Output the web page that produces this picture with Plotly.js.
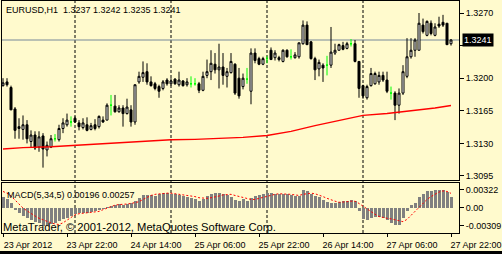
<!DOCTYPE html>
<html><head><meta charset="utf-8">
<script src="https://cdn.plot.ly/plotly-3.0.1.min.js"></script>
<style>
html,body{margin:0;padding:0;background:#FFFACD;}
#wrap{position:relative;width:502px;height:254px;overflow:hidden;}
#chart{width:502px;height:254px;}
#frameBottom{position:absolute;left:0;top:251px;width:502px;height:3px;background:#000;}
</style>
</head><body><div id="wrap"><div id="chart"></div><div id="frameBottom"></div></div>
<script>
const symbolTitle = "EURUSD,H1  1.3237 1.3242 1.3235 1.3241";
const macdTitle = "MACD(5,34,5) 0.00196 0.00257";
const copyright = "MetaTrader, \u00A9 2001-2012, MetaQuotes Software Corp.";

const opens = [
1.3192,1.3196,1.3190,1.3167,1.3146,1.3145,1.3150,1.3132,1.3139,1.3126,
1.3138,1.3123,1.3126,1.3135,1.3134,1.3146,1.3150,1.3153,1.3157,1.3152,
1.3147,1.3150,1.3145,1.3150,1.3148,1.3155,1.3155,1.3171,1.3170,1.3164,
1.3168,1.3162,1.3166,1.3153,1.3196,1.3201,1.3207,1.3196,1.3194,1.3191,
1.3189,1.3198,1.3194,1.3199,1.3193,1.3197,1.3193,1.3194,1.3194,1.3194,
1.3187,1.3203,1.3207,1.3215,1.3209,1.3212,1.3202,1.3206,1.3215,1.3200,
1.3191,1.3199,1.3186,1.3227,1.3221,1.3215,1.3221,1.3230,1.3222,1.3222,
1.3218,1.3230,1.3223,1.3222,1.3223,1.3237,1.3257,1.3239,1.3221,1.3210,
1.3214,1.3214,1.3214,1.3227,1.3230,1.3235,1.3232,1.3237,1.3237,1.3218,
1.3192,1.3179,1.3192,1.3194,1.3196,1.3203,1.3198,1.3184,1.3184,1.3171,
1.3184,1.3202,1.3223,1.3230,1.3230,1.3257,1.3246,1.3259,1.3246,1.3258,
1.3260,1.3259,1.3237];
const highs = [
1.3200,1.3200,1.3192,1.3169,1.3157,1.3160,1.3155,1.3144,1.3143,1.3143,
1.3141,1.3132,1.3139,1.3140,1.3150,1.3157,1.3162,1.3159,1.3159,1.3155,
1.3157,1.3158,1.3152,1.3156,1.3160,1.3159,1.3173,1.3182,1.3182,1.3171,
1.3171,1.3178,1.3171,1.3193,1.3207,1.3218,1.3216,1.3202,1.3196,1.3193,
1.3198,1.3200,1.3200,1.3200,1.3207,1.3198,1.3200,1.3202,1.3200,1.3196,
1.3207,1.3220,1.3230,1.3227,1.3237,1.3227,1.3211,1.3227,1.3216,1.3211,
1.3205,1.3211,1.3232,1.3232,1.3223,1.3223,1.3224,1.3233,1.3230,1.3224,
1.3231,1.3231,1.3231,1.3228,1.3238,1.3262,1.3261,1.3240,1.3223,1.3220,
1.3216,1.3224,1.3255,1.3237,1.3237,1.3239,1.3239,1.3242,1.3241,1.3218,
1.3193,1.3193,1.3211,1.3207,1.3207,1.3207,1.3207,1.3191,1.3186,1.3189,
1.3214,1.3243,1.3243,1.3243,1.3270,1.3264,1.3262,1.3262,1.3259,1.3266,
1.3268,1.3259,1.3242];
const lows = [
1.3191,1.3191,1.3166,1.3135,1.3135,1.3134,1.3130,1.3126,1.3123,1.3121,
1.3104,1.3116,1.3125,1.3132,1.3132,1.3141,1.3148,1.3148,1.3152,1.3144,
1.3145,1.3143,1.3144,1.3144,1.3146,1.3152,1.3155,1.3160,1.3163,1.3163,
1.3148,1.3161,1.3148,1.3150,1.3194,1.3196,1.3193,1.3191,1.3187,1.3179,
1.3187,1.3192,1.3192,1.3193,1.3191,1.3191,1.3191,1.3190,1.3192,1.3184,
1.3186,1.3200,1.3198,1.3205,1.3189,1.3193,1.3190,1.3205,1.3182,1.3178,
1.3188,1.3194,1.3172,1.3216,1.3214,1.3214,1.3216,1.3220,1.3219,1.3218,
1.3217,1.3222,1.3220,1.3221,1.3221,1.3236,1.3236,1.3220,1.3198,1.3202,
1.3196,1.3203,1.3211,1.3225,1.3230,1.3230,1.3231,1.3234,1.3217,1.3179,
1.3178,1.3177,1.3191,1.3193,1.3193,1.3196,1.3184,1.3177,1.3155,1.3162,
1.3182,1.3200,1.3221,1.3223,1.3230,1.3248,1.3245,1.3246,1.3245,1.3254,
1.3255,1.3236,1.3235];
const closes = [
1.3195,1.3193,1.3166,1.3144,1.3148,1.3150,1.3135,1.3139,1.3125,1.3137,
1.3124,1.3128,1.3135,1.3135,1.3146,1.3152,1.3155,1.3153,1.3153,1.3148,
1.3152,1.3144,1.3149,1.3146,1.3159,1.3153,1.3171,1.3171,1.3164,1.3168,
1.3162,1.3169,1.3153,1.3193,1.3202,1.3206,1.3196,1.3192,1.3189,1.3186,
1.3196,1.3194,1.3197,1.3194,1.3198,1.3192,1.3196,1.3194,1.3194,1.3187,
1.3202,1.3207,1.3216,1.3209,1.3212,1.3203,1.3207,1.3218,1.3184,1.3181,
1.3200,1.3199,1.3227,1.3219,1.3215,1.3221,1.3221,1.3220,1.3227,1.3220,
1.3230,1.3223,1.3223,1.3225,1.3238,1.3257,1.3236,1.3221,1.3209,1.3217,
1.3211,1.3214,1.3228,1.3230,1.3236,1.3231,1.3237,1.3237,1.3218,1.3189,
1.3181,1.3191,1.3205,1.3205,1.3203,1.3198,1.3186,1.3184,1.3171,1.3184,
1.3207,1.3223,1.3230,1.3241,1.3259,1.3250,1.3261,1.3248,1.3255,1.3256,
1.3257,1.3236,1.3241];

const maIdx  = [0,5,12,18,24,30,36,42,48,54,60,66,72,78,84,90,96,102,108,112];
const maVals = [1.31240,1.31254,1.31264,1.31280,1.31290,1.31312,1.31328,1.31339,1.31344,1.31355,
                1.31365,1.31385,1.31430,1.31490,1.31546,1.31600,1.31621,1.31648,1.31680,1.31707];

const macdHist = [
0.0020,0.0015,0.0009,-0.0004,-0.0009,-0.0014,-0.0018,-0.0021,-0.0024,-0.0027,
-0.00309,-0.0030,-0.0028,-0.0026,-0.0023,-0.0020,-0.0017,-0.0014,-0.0011,-0.0009,
-0.0008,-0.0008,-0.0007,-0.0006,-0.0004,-0.0002,0.0002,0.0004,0.0006,0.0007,
0.0006,0.0007,0.0008,0.0012,0.0018,0.0022,0.0023,0.0022,0.0021,0.0024,
0.0027,0.0026,0.0025,0.0025,0.0023,0.0021,0.0019,0.0017,0.0015,0.0013,
0.0015,0.0021,0.0025,0.0026,0.0027,0.0025,0.0023,0.0020,0.0014,0.0013,
0.0015,0.0013,0.0017,0.0021,0.0023,0.0025,0.0026,0.0026,0.0025,0.0025,
0.0024,0.0024,0.0023,0.0021,0.0021,0.0032,0.0029,0.0025,0.0021,0.0019,
0.0014,0.0010,0.0008,0.0009,0.0011,0.0012,0.0013,0.0014,0.0013,-0.0006,
-0.0020,-0.0021,-0.0018,-0.0016,-0.0016,-0.0018,-0.0021,-0.0027,-0.0030,-0.0030,
-0.0018,-0.0006,0.0005,0.0009,0.0020,0.0025,0.0029,0.0030,0.0031,0.0032,
0.00322,0.0028,0.00196];
const macdSignal = [
0.0029,0.0026,0.0021,0.0014,0.0006,0.0000,-0.0005,-0.0010,-0.0014,-0.0018,
-0.0021,-0.0024,-0.0026,-0.0028,-0.0029,-0.0026,-0.0021,-0.0016,-0.0012,-0.0010,
-0.0009,-0.0008,-0.0007,-0.0007,-0.0006,-0.0003,0.0000,0.0003,0.0005,0.0006,
0.0006,0.0007,0.0008,0.0009,0.0011,0.0015,0.0019,0.0022,0.0024,0.0025,
0.0026,0.0026,0.0026,0.0025,0.0025,0.0024,0.0023,0.0022,0.0020,0.0018,
0.0017,0.0017,0.0018,0.0019,0.0021,0.0023,0.0024,0.0024,0.0022,0.0020,
0.0018,0.0016,0.0015,0.0015,0.0017,0.0019,0.0021,0.0023,0.0024,0.0025,
0.0025,0.0024,0.0024,0.0023,0.0022,0.0024,0.0025,0.0026,0.0025,0.0023,
0.0020,0.0017,0.0014,0.0012,0.0010,0.0010,0.0011,0.0012,0.0012,0.0008,
0.0003,-0.0002,-0.0007,-0.0011,-0.0015,-0.0017,-0.0018,-0.0019,-0.0021,-0.0023,
-0.0024,-0.0020,-0.0013,-0.0006,0.0002,0.0008,0.0015,0.0020,0.0024,0.0028,
0.0030,0.0029,0.00257];

const tickIdx  = [0,16,32,48,64,80,96,112];
const tickText = ['23 Apr 2012','23 Apr 22:00','24 Apr 14:00','25 Apr 06:00','25 Apr 22:00','26 Apr 14:00','27 Apr 06:00','27 Apr 22:00'];
const separatorIdx = [18,42,66,90];
const priceTicks = [1.3270,1.3235,1.3200,1.3165,1.3130,1.3095];
const priceTickText = ['1.3270','','1.3200','1.3165','1.3130','1.3095'];
const macdTicks = [0.00322,0,-0.00309];
const macdTickText = ['0.00322','0.00','-0.00309'];
const bidPrice = 1.3241;

const BG = '#FFFACD';
const FONT = 'Liberation Sans, Arial, sans-serif';
const idx = opens.map((_, i) => i);
const isDoji = i => opens[i] === closes[i];
const normIdx = idx.filter(i => !isDoji(i));
const dojiIdx = idx.filter(i => isDoji(i));
const pick = (arr, ids) => ids.map(i => arr[i]);

const traces = [
  {type:'candlestick', x:normIdx, open:pick(opens,normIdx), high:pick(highs,normIdx), low:pick(lows,normIdx), close:pick(closes,normIdx),
   increasing:{line:{color:'#000000',width:1}, fillcolor:'#FFFFFF'},
   decreasing:{line:{color:'#000000',width:1}, fillcolor:'#000000'},
   whiskerwidth:0, xaxis:'x', yaxis:'y', hoverinfo:'skip'},
  {type:'candlestick', x:dojiIdx, open:pick(opens,dojiIdx), high:pick(highs,dojiIdx), low:pick(lows,dojiIdx), close:pick(closes,dojiIdx),
   increasing:{line:{color:'#00FF00',width:1}, fillcolor:'#00FF00'},
   decreasing:{line:{color:'#00FF00',width:1}, fillcolor:'#00FF00'},
   whiskerwidth:0, xaxis:'x', yaxis:'y', hoverinfo:'skip'},
  {type:'scatter', mode:'lines', x:maIdx, y:maVals, line:{color:'#FF0000', width:1.3},
   xaxis:'x', yaxis:'y', hoverinfo:'skip'},
  {type:'bar', x:idx, y:macdHist, width:0.75, marker:{color:'#808080', line:{width:0}}, xaxis:'x2', yaxis:'y2', hoverinfo:'skip'},
  {type:'scatter', mode:'lines', x:idx, y:macdSignal, line:{color:'#FF0000', width:1, dash:'2px,2px'}, xaxis:'x2', yaxis:'y2', hoverinfo:'skip'}
];

const xRange = [-0.25, 114];
const shapes = separatorIdx.map(s => ({type:'line', xref:'x', yref:'paper', x0:s, x1:s, y0:0, y1:1,
  line:{color:'#000000', width:1, dash:'3px,2px'}, layer:'below'}));
shapes.push({type:'line', xref:'paper', yref:'y', x0:0, x1:1, y0:bidPrice, y1:bidPrice,
  line:{color:'#778899', width:1}, layer:'below'});

const axisCommon = {showgrid:false, zeroline:false, showline:true, mirror:true, linecolor:'#000000', linewidth:1, fixedrange:true};

const layout = {
  width:502, height:254,
  margin:{l:2, r:43, t:1, b:21, pad:0},
  paper_bgcolor:BG, plot_bgcolor:BG,
  showlegend:false,
  boxgap:0.5, boxgroupgap:0,
  bargap:0,
  font:{family:FONT, size:9, color:'#000000'},
  xaxis:Object.assign({}, axisCommon, {domain:[0,1], range:xRange, anchor:'y', showticklabels:false, ticks:'', rangeslider:{visible:false}}),
  yaxis:Object.assign({}, axisCommon, {domain:[0.22845,1], range:[1.309070,1.328288], side:'right', anchor:'x',
    tickmode:'array', tickvals:priceTicks, ticktext:priceTickText, ticks:'outside', ticklen:4, tickcolor:'#000000',
    tickfont:{family:FONT, size:9, color:'#000000'}}),
  xaxis2:Object.assign({}, axisCommon, {domain:[0,1], range:xRange, anchor:'y2',
    tickmode:'array', tickvals:tickIdx, ticktext:tickText, ticks:'outside', ticklen:3, tickcolor:'#000000',
    ticklabelshift:25, ticklabeloverflow:'allow', tickfont:{family:FONT, size:9, color:'#000000'}}),
  yaxis2:Object.assign({}, axisCommon, {domain:[0,0.21552], range:[-0.004386,0.004386], side:'right', anchor:'x2',
    tickmode:'array', tickvals:macdTicks, ticktext:macdTickText, ticks:'outside', ticklen:4, tickcolor:'#000000',
    tickfont:{family:FONT, size:9, color:'#000000'}}),
  shapes:shapes,
  annotations:[
    {xref:'paper', yref:'paper', x:0, y:1, xanchor:'left', yanchor:'top', xshift:2, yshift:-2, showarrow:false,
     text:symbolTitle, font:{family:FONT, size:9, color:'#000000'}},
    {xref:'paper', yref:'paper', x:0, y:0.21552, xanchor:'left', yanchor:'top', xshift:3, yshift:-5, showarrow:false,
     text:macdTitle, font:{family:FONT, size:9, color:'#000000'}},
    {xref:'paper', yref:'paper', x:0, y:0, xanchor:'left', yanchor:'bottom', xshift:-1, yshift:-2, showarrow:false,
     text:copyright, font:{family:FONT, size:11.2, color:'#000000'}},
    {xref:'paper', yref:'y', x:1, y:bidPrice, xanchor:'left', yanchor:'middle', xshift:3, showarrow:false,
     text:bidPrice.toFixed(4), bgcolor:'#000000', borderpad:1, font:{family:FONT, size:9, color:'#FFFFFF'}}
  ]
};

Plotly.newPlot('chart', traces, layout, {staticPlot:true, displayModeBar:false});
</script></body></html>
